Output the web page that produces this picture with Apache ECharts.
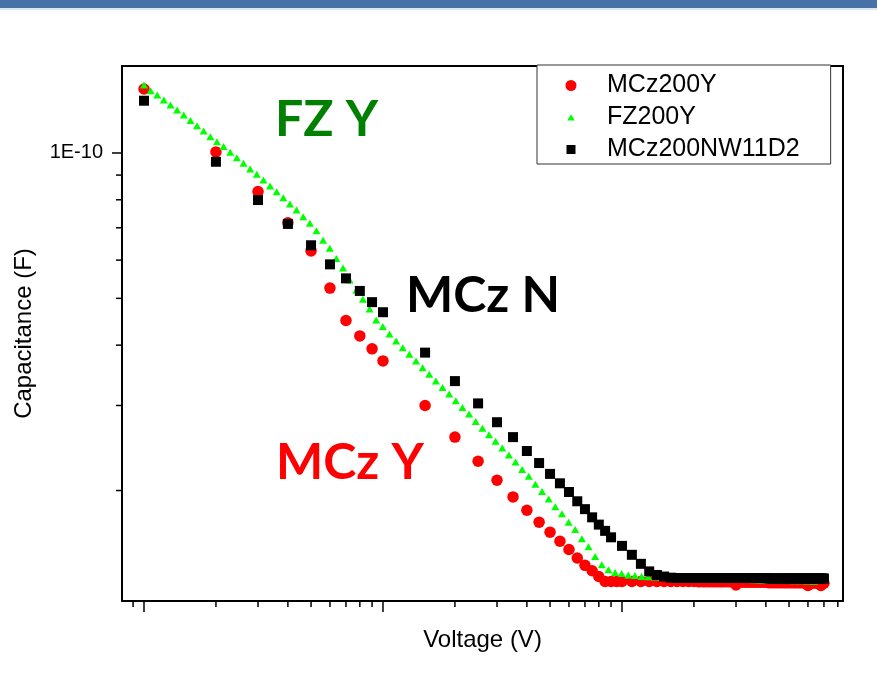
<!DOCTYPE html>
<html>
<head>
<meta charset="utf-8">
<script src="https://cdn.jsdelivr.net/npm/echarts@6/dist/echarts.min.js"></script>
<style>
html,body{margin:0;padding:0;background:#fff;}
#chart{width:877px;height:688px;}
</style>
</head>
<body>
<div id="chart"></div>
<script>
// ---------------- data ----------------
const seriesNames = ['MCz200Y', 'FZ200Y', 'MCz200NW11D2'];

// MCz200Y (red circles)
const mczYVoltage = [1,2,3,4,5,6,7,8,9,10,15,20,25,30,35,40,45,50,55,60,65,70,75,80,85,90,95,
  100,110,120,130,140,150,160,170,180,190,200,210,220,230,240,250,260,270,280,290,300,
  310,320,330,340,350,360,370,380,390,400,410,420,430,440,450,460,470,480,490,500,
  510,520,530,540,550,560,570,580,590,600,610,620,630,640,650,660,670,680,690,700];
const mczYCap = [1.357e-10,1.005e-10,8.32e-11,7.17e-11,6.27e-11,5.25e-11,4.50e-11,4.18e-11,3.93e-11,3.71e-11,
  3.00e-11,2.58e-11,2.30e-11,2.10e-11,1.94e-11,1.82e-11,1.72e-11,1.64e-11,1.57e-11,1.51e-11,1.45e-11,1.40e-11,1.364e-11,1.327e-11,1.296e-11,1.296e-11,1.296e-11,
  1.296e-11,1.296e-11,1.296e-11,1.296e-11,1.296e-11,1.296e-11,1.296e-11,1.296e-11,1.296e-11,1.296e-11,1.296e-11,
  1.294e-11,1.294e-11,1.294e-11,1.294e-11,1.294e-11,1.294e-11,1.294e-11,1.294e-11,1.294e-11,1.275e-11,
  1.292e-11,1.292e-11,1.292e-11,1.292e-11,1.292e-11,1.292e-11,1.292e-11,1.292e-11,1.292e-11,1.292e-11,
  1.289e-11,1.289e-11,1.289e-11,1.289e-11,1.289e-11,1.289e-11,1.289e-11,1.289e-11,1.289e-11,1.289e-11,
  1.289e-11,1.289e-11,1.289e-11,1.289e-11,1.289e-11,1.289e-11,1.289e-11,1.289e-11,1.289e-11,1.272e-11,
  1.287e-11,1.287e-11,1.287e-11,1.287e-11,1.287e-11,1.287e-11,1.285e-11,1.272e-11,1.285e-11,1.285e-11];

// FZ200Y (green triangles)
const fzYVoltage = [1.000,1.066,1.136,1.211,1.291,1.376,1.467,1.564,1.667,1.777,
  1.895,2.020,2.153,2.295,2.446,2.609,2.780,2.964,3.160,3.368,
  3.590,3.827,4.080,4.349,4.636,4.943,5.269,5.617,5.988,6.383,
  6.805,7.254,7.732,8.243,8.787,9.367,9.985,10.64,11.35,12.10,
  12.89,13.75,14.65,15.62,16.65,17.75,18.92,20.17,21.50,22.92,
  24.43,26.05,27.77,29.60,31.55,33.64,35.86,38.22,40.74,43.43,
  46.30,49.36,52.61,56.09,59.79,63.74,67.94,72.43,77.21,82.30,
  87.74,93.53,99.71,106.3,113.3,120.8,128.8,137.3,146.3,156.0,
  166.3,177.2,188.9,201.4,214.7,228.9,244.0,260.1,277.3,295.6,
  315.1,335.9,358.1,381.7,406.9,433.7,462.4,492.9,525.4,560.1,
  597.0,636.5];
const fzYCap = [1.383e-10,1.346e-10,1.319e-10,1.288e-10,1.257e-10,1.228e-10,1.199e-10,1.167e-10,1.138e-10,1.111e-10,
  1.081e-10,1.055e-10,1.031e-10,1.003e-10,9.78e-11,9.52e-11,9.27e-11,9.04e-11,8.79e-11,8.54e-11,
  8.31e-11,8.08e-11,7.84e-11,7.62e-11,7.38e-11,7.15e-11,6.90e-11,6.60e-11,6.35e-11,6.05e-11,
  5.78e-11,5.46e-11,5.20e-11,4.98e-11,4.75e-11,4.51e-11,4.37e-11,4.22e-11,4.08e-11,3.95e-11,
  3.83e-11,3.71e-11,3.59e-11,3.48e-11,3.37e-11,3.27e-11,3.17e-11,3.07e-11,2.97e-11,2.88e-11,
  2.78e-11,2.69e-11,2.61e-11,2.53e-11,2.45e-11,2.37e-11,2.29e-11,2.21e-11,2.14e-11,2.06e-11,
  1.99e-11,1.92e-11,1.85e-11,1.79e-11,1.72e-11,1.66e-11,1.59e-11,1.53e-11,1.46e-11,1.403e-11,
  1.370e-11,1.353e-11,1.346e-11,1.337e-11,1.334e-11,1.328e-11,1.325e-11,1.324e-11,1.322e-11,1.321e-11,
  1.320e-11,1.319e-11,1.318e-11,1.317e-11,1.316e-11,1.315e-11,1.313e-11,1.312e-11,1.311e-11,1.310e-11,
  1.309e-11,1.308e-11,1.307e-11,1.306e-11,1.305e-11,1.304e-11,1.303e-11,1.302e-11,1.301e-11,1.300e-11,
  1.299e-11,1.298e-11];

// MCz200NW11D2 (black squares)
const mczNVoltage = [1,2,3,4,5,6,7,8,9,10,15,20,25,30,35,40,45,50,55,60,65,70,75,80,85,90,
  100,110,120,130,140,150,160,170,180,190,200,210,220,230,240,250,260,270,280,290,300,
  310,320,330,340,350,360,370,380,390,400,410,420,430,440,450,460,470,480,490,500,
  510,520,530,540,550,560,570,580,590,600,610,620,630,640,650,660,670,680,690,700];
const mczNCap = [1.283e-10,9.59e-11,7.99e-11,7.13e-11,6.44e-11,5.88e-11,5.50e-11,5.18e-11,4.91e-11,4.68e-11,
  3.86e-11,3.37e-11,3.03e-11,2.77e-11,2.58e-11,2.415e-11,2.28e-11,2.165e-11,2.07e-11,1.986e-11,1.90e-11,1.83e-11,1.76e-11,1.70e-11,1.65e-11,1.60e-11,
  1.536e-11,1.472e-11,1.41e-11,1.36e-11,1.337e-11,1.327e-11,1.32e-11,
  1.318e-11,1.318e-11,1.318e-11,1.318e-11,1.318e-11,1.318e-11,1.318e-11,1.318e-11,1.318e-11,1.318e-11,1.318e-11,1.318e-11,1.318e-11,
  1.318e-11,1.318e-11,1.318e-11,1.318e-11,1.318e-11,1.318e-11,1.318e-11,1.318e-11,1.318e-11,1.318e-11,1.318e-11,
  1.315e-11,1.315e-11,1.315e-11,1.315e-11,1.315e-11,1.315e-11,1.315e-11,1.315e-11,1.315e-11,1.315e-11,
  1.315e-11,1.315e-11,1.315e-11,1.315e-11,1.315e-11,1.315e-11,1.315e-11,1.315e-11,1.315e-11,1.315e-11,
  1.315e-11,1.315e-11,1.315e-11,1.315e-11,1.315e-11,1.315e-11,1.315e-11,1.315e-11,1.315e-11,1.315e-11];

// axis ticks
const xMajorTicks = [1, 10, 100];
const xMinorTicks = [0.9, 2, 3, 4, 5, 6, 7, 8, 9, 20, 30, 40, 50, 60, 70, 80, 90, 200, 300, 400, 500, 600, 700, 800];
const yMajorTicks = [1e-10];
const yMinorTicks = [2e-11, 3e-11, 4e-11, 5e-11, 6e-11, 7e-11, 8e-11, 9e-11];
const yTickLabels = {'1e-10': '1E-10'};
const xRange = [0.809, 841];
const yRange = [1.181e-11, 1.514e-10];

// annotations
const annotations = [
  {text: 'FZ Y', color: '#008000', left: 275, top: 95},
  {text: 'MCz N', color: '#000000', left: 406, top: 271},
  {text: 'MCz Y', color: '#ff0000', left: 276, top: 438}
];

// ---------------- chart ----------------
const pair = (xs, ys) => xs.map((v, i) => [v, ys[i]]);
const FONT = '"Liberation Sans", Arial, Helvetica, sans-serif';

const tickSeries = (data, dir) => ({
  type: 'custom',
  silent: true,
  clip: false,
  z: 10,
  legendHoverLink: false,
  data: data,
  renderItem: (params, api) => {
    const p = api.coord([api.value(0), api.value(1)]);
    const len = api.value(2);
    const shape = dir === 'x'
      ? {x1: p[0], y1: p[1], x2: p[0], y2: p[1] + len}
      : {x1: p[0] - len, y1: p[1], x2: p[0], y2: p[1]};
    return {type: 'line', shape: shape, style: {stroke: '#000', lineWidth: 1.5}};
  }
});

// legend icons with transparent margins so the marks keep their relative sizes
const legendIcons = {
  circle: 'circle',
  triangle: 'path://M0,0M22,22M11,4.5L18.5,17L3.5,17Z',
  square: 'path://M0,0M22,22M2,2L20,2L20,20L2,20Z'
};

const chart = echarts.init(document.getElementById('chart'), null, {renderer: 'canvas'});
chart.setOption({
  animation: false,
  backgroundColor: '#ffffff',
  grid: {left: 122, top: 66, width: 721, height: 535, show: true, borderColor: '#000', borderWidth: 2, backgroundColor: 'transparent'},
  xAxis: {
    type: 'log', logBase: 10, min: xRange[0], max: xRange[1],
    name: 'Voltage (V)', nameLocation: 'middle', nameGap: 27,
    nameTextStyle: {fontFamily: FONT, fontSize: 24, color: '#000'},
    axisLine: {show: false}, axisTick: {show: false}, axisLabel: {show: false}, splitLine: {show: false}, minorTick: {show: false}
  },
  yAxis: {
    type: 'log', logBase: 10, min: yRange[0], max: yRange[1],
    name: 'Capacitance (F)', nameLocation: 'middle', nameGap: 86,
    nameTextStyle: {fontFamily: FONT, fontSize: 24, color: '#000'},
    axisLine: {show: false}, axisTick: {show: false}, splitLine: {show: false},
    axisLabel: {
      show: true, margin: 19, fontFamily: FONT, fontSize: 20, color: '#000',
      formatter: (v) => (Math.abs(Math.log10(v) + 10) < 1e-6 ? yTickLabels['1e-10'] : '')
    }
  },
  legend: {
    orient: 'vertical', left: 537, top: 65,
    padding: [8, 31, 2, 28.5], itemGap: 7, itemWidth: 11, itemHeight: 11,
    borderColor: '#333', borderWidth: 1, backgroundColor: '#fff',
    textStyle: {fontFamily: FONT, fontSize: 25, color: '#000', lineHeight: 25, padding: [0, 0, 0, 25.5]},
    data: [
      {name: seriesNames[0], icon: legendIcons.circle},
      {name: seriesNames[1], icon: legendIcons.triangle},
      {name: seriesNames[2], icon: legendIcons.square}
    ]
  },
  graphic: [
    {type: 'rect', left: 0, top: 0, shape: {width: 877, height: 8}, style: {fill: '#4672a5'}, silent: true},
    {type: 'rect', left: 0, top: 8, shape: {width: 877, height: 2}, style: {fill: '#dbe6f3'}, silent: true}
  ].concat(annotations.map(a => ({
    type: 'text', left: a.left, top: a.top, z: 20, silent: true,
    style: {text: a.text, font: 'bold 50px Lato, "Open Sans", sans-serif', fill: a.color}
  }))),
  series: [
    {name: seriesNames[0], type: 'scatter', symbol: 'circle', symbolSize: 11.5, itemStyle: {color: '#ff0000', opacity: 1}, data: pair(mczYVoltage, mczYCap), z: 2},
    {name: seriesNames[1], type: 'scatter', symbol: 'triangle', symbolSize: [8, 7], itemStyle: {color: '#00ff00', opacity: 1}, data: pair(fzYVoltage, fzYCap), z: 3},
    {name: seriesNames[2], type: 'scatter', symbol: 'rect', symbolSize: 10, itemStyle: {color: '#000000', opacity: 1}, data: pair(mczNVoltage, mczNCap), z: 4},
    tickSeries(xMinorTicks.map(v => [v, yRange[0], 6]).concat(xMajorTicks.map(v => [v, yRange[0], 11])), 'x'),
    tickSeries(yMinorTicks.map(v => [xRange[0], v, 6]).concat(yMajorTicks.map(v => [xRange[0], v, 10])), 'y')
  ]
});
</script>
</body>
</html>
